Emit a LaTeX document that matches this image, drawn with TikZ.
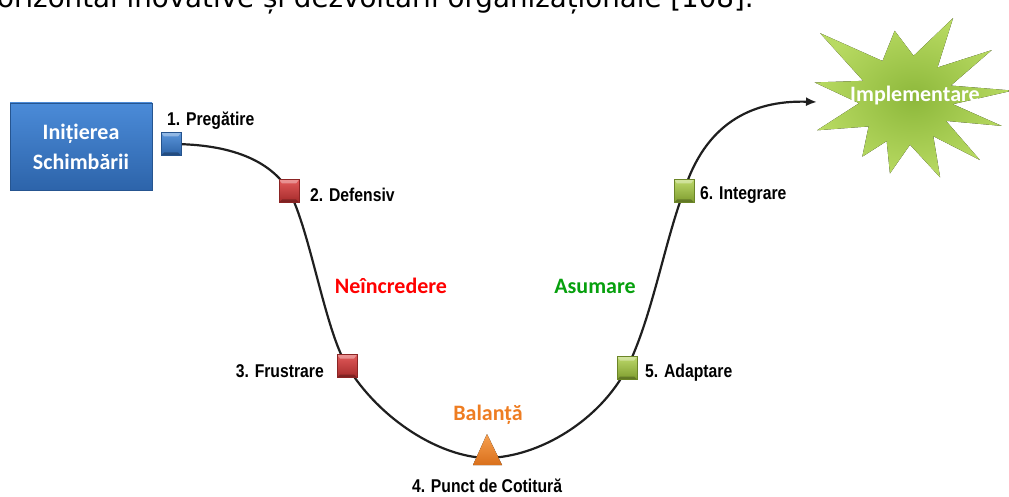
\documentclass[tikz,border=0pt]{standalone}
\usepackage{fontspec}
\usetikzlibrary{backgrounds,arrows.meta}
\newfontfamily\calfont{Carlito}
\newfontfamily\lblfont[FakeStretch=0.85]{Liberation Sans}
\newfontfamily\docfont{DejaVu Sans}
\definecolor{blueL}{HTML}{5A95DA}
\definecolor{blueD}{HTML}{2C62A6}
\definecolor{redL}{HTML}{E25A5A}
\definecolor{redD}{HTML}{A42A2A}
\definecolor{grnL}{HTML}{BCD86A}
\definecolor{grnD}{HTML}{7E9C2E}
\definecolor{orgL}{HTML}{F7A050}
\definecolor{orgD}{HTML}{D9701C}
\definecolor{boxL}{HTML}{4B8BD8}
\definecolor{boxD}{HTML}{2D64AA}
\definecolor{starIn}{HTML}{8DB83B}
\definecolor{starOut}{HTML}{B8DA62}
\definecolor{asumG}{HTML}{07A00E}
\definecolor{balO}{HTML}{EE7D22}
\begin{document}
\begin{tikzpicture}[x=1pt,y=-1pt,
  lbl/.style={font=\lblfont\bfseries\fontsize{18.5}{20}\selectfont,inner sep=0},
  phase/.style={font=\calfont\bfseries\fontsize{22}{26}\selectfont,inner sep=0},
  sq/.style 2 args={minimum width=20pt,minimum height=23pt,inner sep=0,
    top color=#1,bottom color=#2,draw=#2!85!black,line width=0.5pt,
    path picture={
      \fill[white,opacity=0.35] (path picture bounding box.north west)
        -- (path picture bounding box.north east)
        -- ([xshift=-3pt,yshift=-4pt]path picture bounding box.north east)
        -- ([xshift=3pt,yshift=-4pt]path picture bounding box.north west) -- cycle;
      \fill[black,opacity=0.25] (path picture bounding box.south west)
        -- (path picture bounding box.south east)
        -- ([xshift=-3pt,yshift=3pt]path picture bounding box.south east)
        -- ([xshift=3pt,yshift=3pt]path picture bounding box.south west) -- cycle;}},
  curve/.style={line width=2.2pt,black!88}]
\useasboundingbox (0,0) rectangle (1009,497);
\clip (0,0) rectangle (1009,497);

% running text of the page above the figure
\node[font=\docfont\fontsize{27.7}{30}\selectfont,anchor=base west,inner sep=0] (doc) at (-3,8)
  {orizontal inovative și dezvoltării organizaționale [108].};

% start box
\node[minimum width=142pt,minimum height=87pt,inner sep=0,top color=boxL,bottom color=boxD,
  draw=boxD!85!black,line width=0.6pt,text=white,align=center,
  font=\calfont\bfseries\fontsize{22}{30}\selectfont] (start) at (81,146.5)
  {Inițierea\\Schimbării};

% goal star
\begin{scope}[shift={(905,100)}]
\fill[inner color=starIn,outer color=starOut]
  (169:92pt) -- (155.4:46pt) -- (141.8:108pt) -- (120:45pt) -- (98.5:70pt) -- (79:45pt)
  -- (59.6:95pt) -- (45:46pt) -- (29.9:100pt) -- (17.5:48pt) -- (5:108pt) -- (-5:48pt)
  -- (-15:100pt) -- (-27:46pt) -- (-38.7:96pt) -- (-52:46pt) -- (-65.6:85pt) -- (-83.6:45pt)
  -- (-101.6:75pt) -- (-114:45pt) -- (-127:71pt) -- (-144:45pt) -- (-161:93pt) -- (-176:46pt) -- cycle;
\end{scope}
\node[phase,text=white] (impl) at (915,96) {Implementare};
\coordinate (tip) at (817,102);

% stage markers
\node[sq={blueL}{blueD}] (m1) at (171,144) {};
\node[sq={redL}{redD}] (m2) at (289,191) {};
\node[sq={redL}{redD}] (m3) at (347,366) {};
\coordinate (m4) at (487,458);
\fill[top color=orgL,bottom color=orgD] (487,434) -- (502,465) -- (473,465) -- cycle;
\node[sq={grnL}{grnD}] (m5) at (627,368) {};
\node[sq={grnL}{grnD}] (m6) at (684,191) {};

% change curve
\begin{scope}[on background layer]
\draw[curve,-{Latex[length=11pt,width=9pt]}] (m1.center)
  .. controls (230,144) and (270,160) .. (m2.center)
  .. controls (310,230) and (325,330) .. (m3.center)
  .. controls (380,420) and (440,457) .. (m4)
  .. controls (540,457) and (600,420) .. (m5.center)
  .. controls (652,318) and (665,240) .. (m6.center)
  .. controls (705,125) and (750,100) .. (tip);
\end{scope}

% stage labels
\node[lbl,anchor=base west] (l1) at (167,126) {1. Pregătire};
\node[lbl,anchor=base west] (l2) at (310,201) {2. Defensiv};
\node[lbl,anchor=base east] (l3) at (324,377) {3. Frustrare};
\node[lbl,anchor=base] (l4) at (487,492) {4. Punct de Cotitură};
\node[lbl,anchor=base west] (l5) at (645,377) {5. Adaptare};
\node[lbl,anchor=base west] (l6) at (700,200) {6. Integrare};

% phase names
\node[phase,anchor=base,text=red] (neinc) at (391,293) {Neîncredere};
\node[phase,anchor=base,text=asumG] (asum) at (595,293) {Asumare};
\node[phase,anchor=base,text=balO] (bal) at (488,420) {Balanță};
\end{tikzpicture}
\end{document}
